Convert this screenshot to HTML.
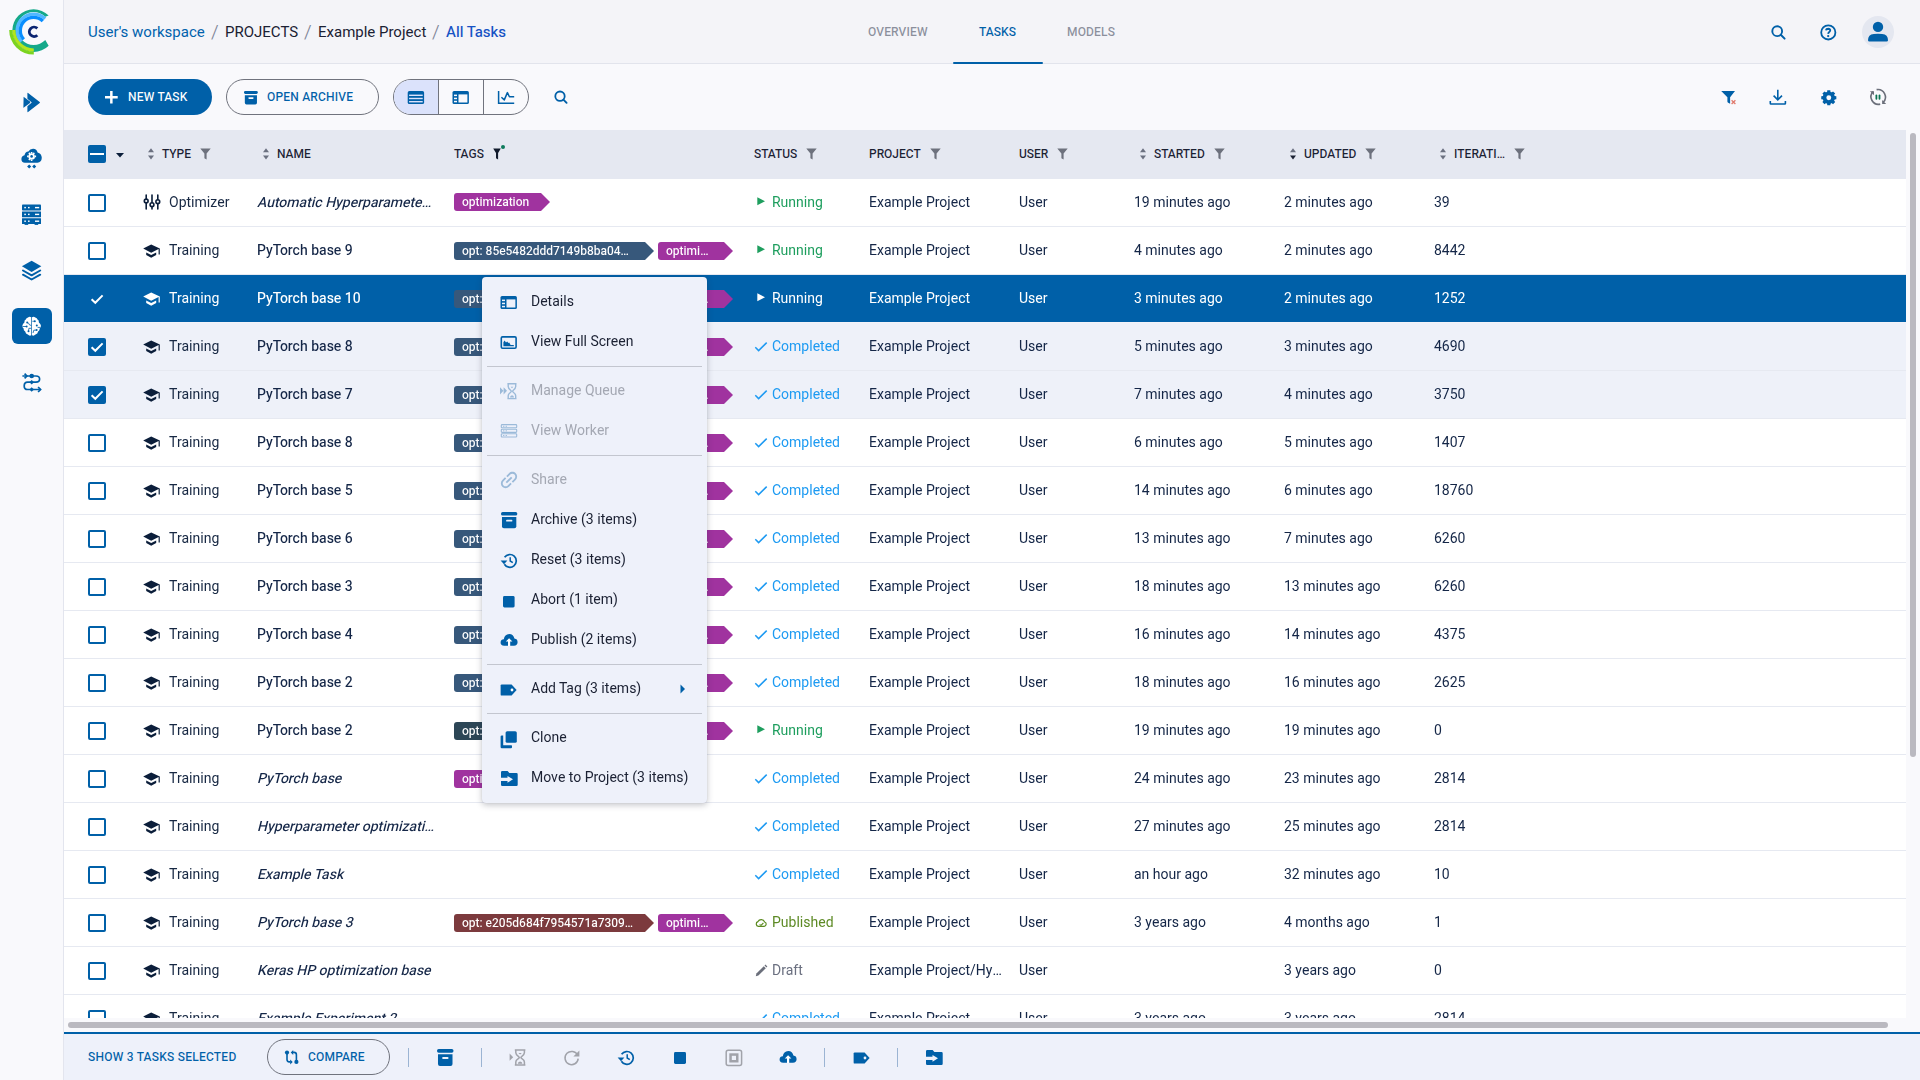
<!DOCTYPE html>
<html><head><meta charset="utf-8"><title>ClearML - Tasks</title>
<style>
*{margin:0;padding:0;box-sizing:border-box}
html,body{width:1920px;height:1080px;overflow:hidden;background:#f9f9fc;font-family:"Heebo", "Roboto", "Liberation Sans", sans-serif;color:#1b2133}
.abs{position:absolute}
svg.abs{overflow:visible}
#side{position:absolute;left:0;top:0;width:64px;height:1080px;background:#f9f9fc;border-right:1px solid #e3e5ee}
#top{position:absolute;left:64px;top:0;width:1856px;height:64px;background:#f4f4f8;border-bottom:1px solid #e2e4ec}
.crumb{position:absolute;top:22px;font-size:15px;line-height:20px;white-space:nowrap}
.crumb.sl{font-size:19px;font-weight:300;color:#7f8597;top:20px;line-height:24px}
.tab{position:absolute;top:24px;font-size:12px;line-height:16px;font-weight:500;color:#8b8f9c;letter-spacing:0.15px}
.btn{position:absolute;border-radius:18px;font-size:12px;line-height:16px;font-weight:500;letter-spacing:0.2px;white-space:nowrap}
.up{font-size:12px;line-height:16px;font-weight:500;letter-spacing:0.2px;white-space:nowrap}
#table{position:absolute;left:64px;top:130px;width:1842px;height:888px;overflow:hidden;background:#fff}
.thead{position:absolute;left:0;top:0;width:1842px;height:49px;background:#e5e8f1}
.th{position:absolute;top:17px;font-size:12px;line-height:14px;font-weight:500;color:#1b2133;white-space:nowrap}
.th .fi{position:relative;display:inline-block;margin-left:9px;top:1px;vertical-align:top;line-height:0;height:12px}
.th .dot{position:absolute;left:8.5px;top:-2.8px;width:3.8px;height:3.8px;border-radius:2px;background:#0e7a5c}
.row{position:absolute;left:0;width:1842px;height:48px;background:#fff;border-bottom:1px solid #e6e9f1}
.row.checked{background:#eef1f9}
.row.active{background:#0060a8;border-bottom-color:#f3f3f9}
.row.active .t{color:#fff}
.row .t{position:absolute;top:14px;font-size:14px;line-height:20px;white-space:nowrap;color:#142647}
.row .type{color:#172843}
.row .name{font-weight:500;max-width:186px;overflow:hidden;padding-right:4px}
.ic{position:absolute;line-height:0}
.ic svg,.cb svg{display:block}
.cb{position:absolute;width:18px;height:18px}
.tag{position:absolute;height:18px;border-radius:3px 0 0 3px;color:#fff;font-size:12px;line-height:18px;font-weight:500;padding-left:8px;white-space:nowrap}
.tag span{display:block;overflow:hidden}
.tag i{position:absolute;right:-9px;top:0;width:0;height:0;border-top:9px solid transparent;border-bottom:9px solid transparent;border-left:9px solid}
#menu{position:absolute;left:482px;top:277px;width:225px;height:526px;background:#eef1fa;border-radius:4px;box-shadow:0 2px 6px rgba(40,44,60,0.28),0 0 1px rgba(40,44,60,0.2)}
.mi{position:absolute;left:49px;font-size:14px;line-height:20px;white-space:nowrap}
</style></head>
<body>
<div id="side">
<svg class="abs" style="left:0;top:0" width="64" height="64" viewBox="0 0 64 64"><path d="M48.66 15.54 A21.3 21.3 0 1 0 48.66 45.66 L45.27 40.07 A16.5 16.5 0 1 1 45.27 16.73 Z" fill="#15a98a"/><path d="M21.34 41.64 A16.5 16.5 0 0 1 45.06 18.73" stroke="#52b8ff" stroke-width="3.4" fill="none"/><path d="M23.75 39.47 A13.25 13.25 0 0 1 42.80 21.07" stroke="#0a8efe" stroke-width="3.3" fill="none"/><path d="M33.80 53.00 A23.0 23.0 0 0 1 10.80 30.00" stroke="#7cd41f" stroke-width="3.2" fill="none"/><path d="M33.80 49.90 A19.9 19.9 0 0 1 13.90 30.00" stroke="#b4e51c" stroke-width="3.0" fill="none"/><path d="M37.3 28.4 A4.7 4.7 0 1 0 37.3 35.2" stroke="#0b2471" stroke-width="2.9" fill="none"/></svg>
<svg class="abs" style="left:20px;top:90px" width="24" height="24" viewBox="20 90 24 24"><path d="M23.6 97.2 Q23.2 96.6 23.9 96.9 L30 101.6 Q30.6 102.3 30 103 L23.9 107.6 Q23.2 108 23.4 107.2 Z" fill="#0060a8"/><path d="M27.4 93.3 Q27.4 92.5 28.1 93 L39.7 101.9 Q40.3 102.5 39.7 103.1 L28.1 112 Q27.4 112.4 27.4 111.6 L27.4 106.2 L31.8 102.5 L27.4 98.8 Z" fill="#0060a8"/></svg>
<svg class="abs" style="left:20px;top:146px" width="24" height="24" viewBox="20 146 24 24"><path d="M25 162.8 Q21.3 162.6 21.4 159 Q21.6 155.8 24.5 155.2 Q25.2 151.6 28.4 151.4 Q30 148.6 33.2 148.7 Q36.8 149 37.6 152.4 Q41.6 153.4 41.8 157.8 Q41.6 162.5 37.4 162.8 Z" fill="#0060a8"/><g fill="#fff"><circle cx="31.6" cy="156.4" r="3.2"/><path d="M30.8 151.9h1.6v1.5h-1.6zM30.8 159.4h1.6v1.5h-1.6zM27.1 155.6h1.5v1.6h-1.5zM34.6 155.6h1.5v1.6h-1.5z"/><path d="M28.3 153.4l1.1-1.1 1.1 1.1-1.1 1.1zM32.7 157.8l1.1-1.1 1.1 1.1-1.1 1.1zM28.3 159.4l1.1-1.1 1.1 1.1-1.1 1.1zM32.7 153.4l1.1-1.1 1.1 1.1-1.1 1.1z"/></g><circle cx="31.6" cy="156.4" r="1.3" fill="#0060a8"/><path d="M29.2 164.4 L31.2 166.5 L29.2 168.6 L27.1 166.5 Z M34.2 164.4 L36.2 166.5 L34.2 168.6 L32.2 166.5 Z" fill="#0060a8"/></svg>
<svg class="abs" style="left:20px;top:202px" width="24" height="24" viewBox="20 202 24 24"><g fill="#0060a8"><rect x="22" y="204.6" width="19" height="5.9" rx="0.8"/><rect x="22" y="211.4" width="19" height="5.9" rx="0.3"/><rect x="22" y="218.2" width="19" height="5.9" rx="0.3"/><rect x="24.6" y="223.5" width="3.6" height="1.4"/><rect x="34.6" y="223.5" width="3.6" height="1.4"/></g><g fill="#fff"><rect x="24.3" y="206.9" width="1.6" height="1.4"/><rect x="28" y="206.9" width="1.6" height="1.4"/><rect x="35" y="206.9" width="4.2" height="1.4"/><rect x="24.3" y="213.7" width="1.6" height="1.4"/><rect x="28" y="213.7" width="1.6" height="1.4"/><rect x="35" y="213.7" width="4.2" height="1.4"/><rect x="24.3" y="220.5" width="1.6" height="1.4"/><rect x="28" y="220.5" width="1.6" height="1.4"/><rect x="35" y="220.5" width="4.2" height="1.4"/></g></svg>
<svg class="abs" style="left:20px;top:258px" width="24" height="24" viewBox="20 258 24 24"><path d="M31.6 260.7 L41.3 266.3 L31.6 271.9 L21.9 266.3 Z" fill="#0060a8"/><path d="M23 270.5 L31.6 275.3 L40.2 270.5" stroke="#0060a8" stroke-width="2" fill="none" stroke-linecap="round" stroke-linejoin="round"/><path d="M23 274.7 L31.6 279.5 L40.2 274.7" stroke="#0060a8" stroke-width="2" fill="none" stroke-linecap="round" stroke-linejoin="round"/></svg>
<div class="abs" style="left:12px;top:308px;width:40px;height:36px;border-radius:6px;background:#0060a8"></div>
<svg class="abs" style="left:20px;top:314px" width="24" height="24" viewBox="20 314 24 24"><path d="M31.3 317.3 Q29.6 316.4 28 317.4 Q26.2 317.6 25.8 319.6 Q24.2 320.4 24.4 322.4 Q22.6 323.6 22.4 325.6 Q22.1 327.4 23.6 328.6 Q23.4 330.6 25.2 331.6 Q25.6 333.9 27.8 334.6 Q29.6 336.3 31.3 335.2 Z" fill="#fff"/><path d="M32 317.3 Q33.7 316.4 35.3 317.4 Q37.1 317.6 37.5 319.6 Q39.1 320.4 38.9 322.4 Q40.7 323.6 40.9 325.6 Q41.2 327.4 39.7 328.6 Q39.9 330.6 38.1 331.6 Q37.7 333.9 35.5 334.6 Q33.7 336.3 32 335.2 Z" fill="#fff"/><g stroke="#0060a8" stroke-width="0.8" fill="none"><path d="M22.6 326.5 H26.2 M27.2 322.6 L28.6 323.2 L29.6 325 L31.3 325.4 M28.5 331 L28.9 328.3 L31.3 328.3 M32.4 321.3 L34.5 321.2 M33 333 L33.8 330.2 L36.2 330.1 M37.6 327.4 L40.6 327.4"/></g><g fill="#0060a8"><circle cx="26.6" cy="326.5" r="1"/><circle cx="27.2" cy="322.6" r="1"/><circle cx="28.5" cy="331.2" r="1"/><circle cx="34.8" cy="321.2" r="1"/><circle cx="36.8" cy="325.4" r="1"/><circle cx="36.6" cy="330.1" r="1"/></g></svg>
<svg class="abs" style="left:20px;top:370px" width="24" height="24" viewBox="20 370 24 24"><g stroke="#0060a8" stroke-width="1.7" fill="none"><path d="M22.4 376 H36 Q39.6 376.1 39.6 379.1 Q39.6 382.2 36 382.2 H27.6 Q24.2 382.3 24.2 385.9 Q24.2 389.5 27.6 389.5 H40.4"/><path d="M24.6 373.6 L26.9 376 L24.6 378.4 M38.1 387 L40.6 389.5 L38.1 392"/></g><g fill="#0060a8"><ellipse cx="31.7" cy="376" rx="2.3" ry="2.2"/><path d="M31.7 380 L34 382.2 L31.7 384.5 L29.4 382.2 Z"/><path d="M31.7 387.2 L34 389.5 L31.7 391.8 L29.4 389.5 Z"/></g></svg>
</div>
<div id="top">
  <div class="crumb" style="left:24px;color:#0062ad">User's workspace</div>
  <div class="crumb sl" style="left:147px">/</div>
  <div class="crumb" style="left:161px;color:#1b2133">PROJECTS</div>
  <div class="crumb sl" style="left:240px">/</div>
  <div class="crumb" style="left:254px;color:#1b2133">Example Project</div>
  <div class="crumb sl" style="left:368px">/</div>
  <div class="crumb" style="left:382px;color:#1652c4;font-weight:500">All Tasks</div>
  <div class="tab" style="left:804px">OVERVIEW</div>
  <div class="tab" style="left:915px;color:#0060a8">TASKS</div>
  <div class="tab" style="left:1003px">MODELS</div>
  <div class="abs" style="left:889px;top:62px;width:90px;height:2px;border-radius:1px;background:#0060a8"></div>
</div>
<svg class="abs" style="left:1766px;top:20px" width="24" height="24" viewBox="1766 20 24 24"><circle cx="1777.2" cy="31.2" r="4.9" stroke="#0060a8" stroke-width="1.9" fill="none"/><path d="M1780.8 34.8 L1784.6 38.6" stroke="#0060a8" stroke-width="2" stroke-linecap="round"/></svg>
<svg class="abs" style="left:1816px;top:20px" width="24" height="24" viewBox="1816 20 24 24"><circle cx="1828.3" cy="32.4" r="7.1" stroke="#0060a8" stroke-width="1.8" fill="none"/><path d="M1826.1 30.3 Q1826.3 28.7 1828.3 28.7 Q1830.3 28.8 1830.2 30.5 Q1830.1 31.5 1829 32.2 Q1828.3 32.7 1828.2 33.9" stroke="#0060a8" stroke-width="1.9" fill="none"/><circle cx="1828.2" cy="36.1" r="1.15" fill="#0060a8"/></svg>
<div class="abs" style="left:1862px;top:16px;width:32px;height:32px;border-radius:16px;background:#e4e7f0"></div>
<svg class="abs" style="left:1862px;top:16px" width="32" height="32" viewBox="1862 16 32 32"><circle cx="1878" cy="26.9" r="5.2" fill="#0060a8"/><path d="M1868 40.2 Q1868 34.6 1873.8 34 Q1878 33.3 1882.2 34 Q1888 34.6 1888 40.2 Q1888 41.6 1886.6 41.6 H1869.4 Q1868 41.6 1868 40.2 Z" fill="#0060a8"/></svg>
<div class="btn" style="left:88px;top:79px;width:124px;height:36px;background:#0060a8;color:#fff"><svg class="abs" style="left:17.3px;top:11.6px" width="14" height="14" viewBox="0 0 14 14"><path d="M6.35 0 V12.6 M0 6.3 H12.7" stroke="#fff" stroke-width="2.5"/></svg><span class="abs" style="left:40px;top:10px">NEW TASK</span></div>
<div class="btn" style="left:226px;top:79px;width:153px;height:36px;border:1px solid #70737d;color:#0060a8"><span class="abs" style="left:40px;top:9px">OPEN ARCHIVE</span></div>
<svg class="abs" style="left:244.2px;top:90.6px" width="14.8" height="14.4" viewBox="0 0 14.8 14.4"><rect x="0" y="0" width="13.80" height="2.95" rx="1.34" fill="#0060a8"/><path d="M0.83 4.15 H12.97 V11.79 Q12.97 13.40 11.36 13.40 H2.44 Q0.83 13.40 0.83 11.79 Z" fill="#0060a8"/><rect x="4.28" y="6.30" width="5.38" height="1.61" rx="0.80" fill="#f9f9fc"/></svg>
<div class="abs" style="left:393px;top:79px;width:136px;height:36px;border:1px solid #70737d;border-radius:18px;overflow:hidden"><div class="abs" style="left:0;top:0;width:44px;height:34px;background:#dbe2fb"></div><div class="abs" style="left:44px;top:0;width:1px;height:34px;background:#70737d"></div><div class="abs" style="left:89px;top:0;width:1px;height:34px;background:#70737d"></div></div>
<svg class="abs" style="left:407px;top:91px" width="18" height="14" viewBox="0 0 18 14"><rect x="0.7" y="0.1" width="16.4" height="12.9" rx="1.6" fill="#0060a8"/><g fill="#dbe2fb"><rect x="2.1" y="3.6" width="13.6" height="1.4"/><rect x="2.1" y="6.8" width="13.6" height="1.4"/><rect x="2.1" y="10" width="13.6" height="1.4"/></g></svg>
<svg class="abs" style="left:452px;top:91px" width="18" height="14" viewBox="0 0 18 14"><rect x="0.5" y="0.1" width="16.4" height="12.9" rx="1.5" fill="#0060a8"/><rect x="6.5" y="3.4" width="8.9" height="8.1" fill="#f9f9fc"/><g fill="#f9f9fc"><rect x="2" y="3.6" width="3" height="1.5"/><rect x="2" y="6.7" width="3" height="1.5"/><rect x="2" y="9.8" width="3" height="1.5"/></g></svg>
<svg class="abs" style="left:497px;top:90px" width="18" height="15" viewBox="0 0 18 15"><path d="M1.6 1 V13.3 H17.2" stroke="#0060a8" stroke-width="1.5" fill="none"/><path d="M4.4 7.3 L7.3 9.9 L10.4 2.6 L12.4 6.8 H17.2" stroke="#0060a8" stroke-width="1.5" fill="none" stroke-linejoin="round"/></svg>
<svg class="abs" style="left:552px;top:88px" width="18" height="18" viewBox="0 0 18 18"><circle cx="8" cy="8.2" r="4.7" stroke="#0060a8" stroke-width="1.8" fill="none"/><path d="M11.4 11.6 L14.6 14.8" stroke="#0060a8" stroke-width="1.9" stroke-linecap="round"/></svg>
<svg class="abs" style="left:1720px;top:89px" width="18" height="18" viewBox="0 0 18 18"><path d="M1.2 1.9 H15 L10.1 8.2 V14.8 L8.2 13.8 Q7.4 13.3 7.4 12.4 V8.2 Z" fill="#0060a8"/><path d="M11.6 11.3 L15.4 15 M15.4 11.3 L11.6 15" stroke="#e07a6c" stroke-width="1.3"/></svg>
<svg class="abs" style="left:1769px;top:89px" width="18" height="17" viewBox="0 0 18 17"><path d="M8.8 0.8 V10.6 M4.6 6.6 L8.8 10.8 L13 6.6" stroke="#0060a8" stroke-width="1.6" fill="none"/><path d="M1.3 12 V14.4 Q1.3 15 1.9 15 H15.8 Q16.4 15 16.4 14.4 V12" stroke="#0060a8" stroke-width="1.6" fill="none"/></svg>
<svg class="abs" style="left:1820.5px;top:89.8px" width="15.6" height="15.6" viewBox="0 0 16 16"><path d="M13.73 6.23 L15.74 6.43 L15.74 9.57 L13.73 9.77 L13.31 10.80 L14.58 12.36 L12.36 14.58 L10.80 13.31 L9.77 13.73 L9.57 15.74 L6.43 15.74 L6.23 13.73 L5.20 13.31 L3.64 14.58 L1.42 12.36 L2.69 10.80 L2.27 9.77 L0.26 9.57 L0.26 6.43 L2.27 6.23 L2.69 5.20 L1.42 3.64 L3.64 1.42 L5.20 2.69 L6.23 2.27 L6.43 0.26 L9.57 0.26 L9.77 2.27 L10.80 2.69 L12.36 1.42 L14.58 3.64 L13.31 5.20 Z" fill="#0060a8"/><circle cx="8" cy="8" r="6.2" fill="#0060a8"/><circle cx="8" cy="8" r="2.5" fill="#f9f9fc"/></svg>
<svg class="abs" style="left:1866px;top:86px" width="24" height="22" viewBox="1866 86 24 22"><path d="M1873.1 91.6 A7.5 7.5 0 0 0 1880.2 104.1" stroke="#6b6f7a" stroke-width="1.6" fill="none"/><path d="M1876.6 89.6 A7.5 7.5 0 0 1 1883.2 102.3" stroke="#6b6f7a" stroke-width="1.6" fill="none"/><path d="M1869.9 91.2 H1874 V95.3 Z" fill="#6b6f7a"/><path d="M1882.1 99.9 V104 H1886.2 Z" fill="#6b6f7a"/><rect x="1875.5" y="94.5" width="1.8" height="5.2" rx="0.9" fill="#0b7351"/><rect x="1878.6" y="94.5" width="1.8" height="5.2" rx="0.9" fill="#0b7351"/></svg>
<div id="table">
<div class="thead">
<div style="position:absolute;left:24px;top:15px;width:18px;height:18px;border-radius:2px;background:#0060a8"><div style="position:absolute;left:2px;top:8px;width:14px;height:2px;background:#fff"></div></div>
<div class="ic" style="left:52px;top:22.5px"><svg width="8" height="5" viewBox="0 0 8 5" ><path d="M0 0 H8 L4 4.4 Z" fill="#0b1e3a"/></svg></div>
<div class="th" style="left:98px" data-l="TYPE">TYPE<span class="fi"><svg width="11" height="12" viewBox="0 0 11 12" ><path d="M0.3 0.5 H10.7 L6.6 5.6 V11.5 L4.4 10.2 V5.6 Z" fill="#6d717d"/></svg></span></div>
<div class="ic" style="left:84px;top:18px"><svg width="6" height="12" viewBox="0 0 6 12" ><path d="M0 4.2 L3 0.2 L6 4.2 Z" fill="#6b7080"/><path d="M0 7.4 L3 11.4 L6 7.4 Z" fill="#6b7080"/></svg></div>
<div class="th" style="left:213px" data-l="NAME">NAME</div>
<div class="ic" style="left:199px;top:18px"><svg width="6" height="12" viewBox="0 0 6 12" ><path d="M0 4.2 L3 0.2 L6 4.2 Z" fill="#6b7080"/><path d="M0 7.4 L3 11.4 L6 7.4 Z" fill="#6b7080"/></svg></div>
<div class="th" style="left:390px" data-l="TAGS">TAGS<span class="fi"><svg width="8" height="12" viewBox="0 0 8 12" ><path d="M0.2 0.6 H7.8 L5.1 5 V11.4 L3 10.3 V5 Z" fill="#111a2c"/></svg><b class="dot"></b></span></div>
<div class="th" style="left:690px" data-l="STATUS">STATUS<span class="fi"><svg width="11" height="12" viewBox="0 0 11 12" ><path d="M0.3 0.5 H10.7 L6.6 5.6 V11.5 L4.4 10.2 V5.6 Z" fill="#6d717d"/></svg></span></div>
<div class="th" style="left:805px" data-l="PROJECT">PROJECT<span class="fi"><svg width="11" height="12" viewBox="0 0 11 12" ><path d="M0.3 0.5 H10.7 L6.6 5.6 V11.5 L4.4 10.2 V5.6 Z" fill="#6d717d"/></svg></span></div>
<div class="th" style="left:955px" data-l="USER">USER<span class="fi"><svg width="11" height="12" viewBox="0 0 11 12" ><path d="M0.3 0.5 H10.7 L6.6 5.6 V11.5 L4.4 10.2 V5.6 Z" fill="#6d717d"/></svg></span></div>
<div class="th" style="left:1090px" data-l="STARTED">STARTED<span class="fi"><svg width="11" height="12" viewBox="0 0 11 12" ><path d="M0.3 0.5 H10.7 L6.6 5.6 V11.5 L4.4 10.2 V5.6 Z" fill="#6d717d"/></svg></span></div>
<div class="ic" style="left:1076px;top:18px"><svg width="6" height="12" viewBox="0 0 6 12" ><path d="M0 4.2 L3 0.2 L6 4.2 Z" fill="#6b7080"/><path d="M0 7.4 L3 11.4 L6 7.4 Z" fill="#6b7080"/></svg></div>
<div class="th" style="left:1240px" data-l="UPDATED">UPDATED<span class="fi"><svg width="11" height="12" viewBox="0 0 11 12" ><path d="M0.3 0.5 H10.7 L6.6 5.6 V11.5 L4.4 10.2 V5.6 Z" fill="#6d717d"/></svg></span></div>
<div class="ic" style="left:1226px;top:18px"><svg width="6" height="12" viewBox="0 0 6 12" ><path d="M0 4.2 L3 0.2 L6 4.2 Z" fill="#6b7080"/><path d="M0 7.4 L3 11.4 L6 7.4 Z" fill="#1b2133"/></svg></div>
<div class="th" style="left:1390px" data-l="ITERATI…">ITERATI…<span class="fi"><svg width="11" height="12" viewBox="0 0 11 12" ><path d="M0.3 0.5 H10.7 L6.6 5.6 V11.5 L4.4 10.2 V5.6 Z" fill="#6d717d"/></svg></span></div>
<div class="ic" style="left:1376px;top:18px"><svg width="6" height="12" viewBox="0 0 6 12" ><path d="M0 4.2 L3 0.2 L6 4.2 Z" fill="#6b7080"/><path d="M0 7.4 L3 11.4 L6 7.4 Z" fill="#6b7080"/></svg></div>
</div>
<div style="position:absolute;left:0;top:49px;width:1842px;height:839px;overflow:hidden;will-change:transform;background:#fff">
<div style="position:absolute;left:0;top:-179px;width:1842px">
<div class="row" style="top:179px">
<div class="cb" style="left:24px;top:15px"><div style="position:absolute;left:0;top:0;width:18px;height:18px;box-sizing:border-box;border:2px solid #0060a8;border-radius:2px;background:#fff"></div></div>
<div class="ic" style="left:79px;top:15px"><svg width="18" height="16" viewBox="2 0 18 16" ><g stroke="#0b1e3a" stroke-width="1.6" fill="none" stroke-linecap="round"><path d="M5.2 1 V4.8 M5.2 9 V15 M11 1 V8.6 M11 12.8 V15 M16.8 1 V5.6 M16.8 9.8 V15"/><circle cx="5.2" cy="7" r="1.9"/><circle cx="11" cy="10.7" r="1.9"/><circle cx="16.8" cy="7.7" r="1.9"/></g></svg></div>
<div class="t type" style="left:105px">Optimizer</div>
<div class="t name" style="left:193px;font-style:italic;">Automatic Hyperparamete…</div>
<div class="tag" style="left:390px;top:14px;width:87px;background:#a0339f"><span>optimization</span><i style="border-left-color:#a0339f"></i></div>
<div class="ic" style="left:690px;top:16px"><svg width="16" height="16" viewBox="0 0 16 16" ><path d="M3.3 2.2 L11 6.2 L3.3 10.2 Z" fill="#1e9e5e"/></svg></div>
<div class="t" style="left:708px;color:#1e9e5e">Running</div>
<div class="t" style="left:805px">Example Project</div>
<div class="t" style="left:955px">User</div>
<div class="t" style="left:1070px">19 minutes ago</div>
<div class="t" style="left:1220px">2 minutes ago</div>
<div class="t" style="left:1370px">39</div>
</div>
<div class="row" style="top:227px">
<div class="cb" style="left:24px;top:15px"><div style="position:absolute;left:0;top:0;width:18px;height:18px;box-sizing:border-box;border:2px solid #0060a8;border-radius:2px;background:#fff"></div></div>
<div class="ic" style="left:79px;top:17px"><svg width="18" height="14" viewBox="0 0 18 14" ><path d="M8.2 0.6 L0.2 4.6 L8.2 8.8 L15.6 5 L15.6 10.6 L16.8 10.6 L16.8 4.4 Z" fill="#0b1e3a"/><path d="M3.2 8.4 L3.2 11 L8.2 13.7 L13.2 11 L13.2 8.4 L8.2 11 Z" fill="#0b1e3a"/></svg></div>
<div class="t type" style="left:105px">Training</div>
<div class="t name" style="left:193px;">PyTorch base 9</div>
<div class="tag" style="left:390px;top:15px;width:191px;background:#37587b"><span>opt: 85e5482ddd7149b8ba04…</span><i style="border-left-color:#37587b"></i></div>
<div class="tag" style="left:594px;top:15px;width:66px;background:#a0339f"><span>optimi…</span><i style="border-left-color:#a0339f"></i></div>
<div class="ic" style="left:690px;top:16px"><svg width="16" height="16" viewBox="0 0 16 16" ><path d="M3.3 2.2 L11 6.2 L3.3 10.2 Z" fill="#1e9e5e"/></svg></div>
<div class="t" style="left:708px;color:#1e9e5e">Running</div>
<div class="t" style="left:805px">Example Project</div>
<div class="t" style="left:955px">User</div>
<div class="t" style="left:1070px">4 minutes ago</div>
<div class="t" style="left:1220px">2 minutes ago</div>
<div class="t" style="left:1370px">8442</div>
</div>
<div class="row active" style="top:275px">
<div class="cb" style="left:24px;top:15px"><svg width="18" height="18" viewBox="0 0 18 18" ><path d="M3.6 9.2 L7.3 12.8 L14.6 5.4" stroke="#fff" stroke-width="2" fill="none"/></svg></div>
<div class="ic" style="left:79px;top:17px"><svg width="18" height="14" viewBox="0 0 18 14" ><path d="M8.2 0.6 L0.2 4.6 L8.2 8.8 L15.6 5 L15.6 10.6 L16.8 10.6 L16.8 4.4 Z" fill="#ffffff"/><path d="M3.2 8.4 L3.2 11 L8.2 13.7 L13.2 11 L13.2 8.4 L8.2 11 Z" fill="#ffffff"/></svg></div>
<div class="t type" style="left:105px">Training</div>
<div class="t name" style="left:193px;">PyTorch base 10</div>
<div class="tag" style="left:390px;top:15px;width:191px;background:#37587b"><span>opt: 85e5482ddd7149b8ba04…</span><i style="border-left-color:#37587b"></i></div>
<div class="tag" style="left:594px;top:15px;width:66px;background:#a0339f"><span>optimi…</span><i style="border-left-color:#a0339f"></i></div>
<div class="ic" style="left:690px;top:16px"><svg width="16" height="16" viewBox="0 0 16 16" ><path d="M3.3 2.2 L11 6.2 L3.3 10.2 Z" fill="#ffffff"/></svg></div>
<div class="t" style="left:708px;color:#ffffff">Running</div>
<div class="t" style="left:805px">Example Project</div>
<div class="t" style="left:955px">User</div>
<div class="t" style="left:1070px">3 minutes ago</div>
<div class="t" style="left:1220px">2 minutes ago</div>
<div class="t" style="left:1370px">1252</div>
</div>
<div class="row checked" style="top:323px">
<div class="cb" style="left:24px;top:15px"><div style="position:absolute;left:0;top:0;width:18px;height:18px;border-radius:2px;background:#0060a8"><svg width="18" height="18" viewBox="0 0 18 18" ><path d="M3.6 9.2 L7.3 12.8 L14.6 5.4" stroke="#fff" stroke-width="2" fill="none"/></svg></div></div>
<div class="ic" style="left:79px;top:17px"><svg width="18" height="14" viewBox="0 0 18 14" ><path d="M8.2 0.6 L0.2 4.6 L8.2 8.8 L15.6 5 L15.6 10.6 L16.8 10.6 L16.8 4.4 Z" fill="#0b1e3a"/><path d="M3.2 8.4 L3.2 11 L8.2 13.7 L13.2 11 L13.2 8.4 L8.2 11 Z" fill="#0b1e3a"/></svg></div>
<div class="t type" style="left:105px">Training</div>
<div class="t name" style="left:193px;">PyTorch base 8</div>
<div class="tag" style="left:390px;top:15px;width:191px;background:#37587b"><span>opt: 85e5482ddd7149b8ba04…</span><i style="border-left-color:#37587b"></i></div>
<div class="tag" style="left:594px;top:15px;width:66px;background:#a0339f"><span>optimi…</span><i style="border-left-color:#a0339f"></i></div>
<div class="ic" style="left:690px;top:16px"><svg width="16" height="16" viewBox="0 0 16 16" ><path d="M1.3 8.3 L4.6 11.6 L12.7 3.6" stroke="#1e9af2" stroke-width="1.5" fill="none"/></svg></div>
<div class="t" style="left:708px;color:#1c9af2">Completed</div>
<div class="t" style="left:805px">Example Project</div>
<div class="t" style="left:955px">User</div>
<div class="t" style="left:1070px">5 minutes ago</div>
<div class="t" style="left:1220px">3 minutes ago</div>
<div class="t" style="left:1370px">4690</div>
</div>
<div class="row checked" style="top:371px">
<div class="cb" style="left:24px;top:15px"><div style="position:absolute;left:0;top:0;width:18px;height:18px;border-radius:2px;background:#0060a8"><svg width="18" height="18" viewBox="0 0 18 18" ><path d="M3.6 9.2 L7.3 12.8 L14.6 5.4" stroke="#fff" stroke-width="2" fill="none"/></svg></div></div>
<div class="ic" style="left:79px;top:17px"><svg width="18" height="14" viewBox="0 0 18 14" ><path d="M8.2 0.6 L0.2 4.6 L8.2 8.8 L15.6 5 L15.6 10.6 L16.8 10.6 L16.8 4.4 Z" fill="#0b1e3a"/><path d="M3.2 8.4 L3.2 11 L8.2 13.7 L13.2 11 L13.2 8.4 L8.2 11 Z" fill="#0b1e3a"/></svg></div>
<div class="t type" style="left:105px">Training</div>
<div class="t name" style="left:193px;">PyTorch base 7</div>
<div class="tag" style="left:390px;top:15px;width:191px;background:#37587b"><span>opt: 85e5482ddd7149b8ba04…</span><i style="border-left-color:#37587b"></i></div>
<div class="tag" style="left:594px;top:15px;width:66px;background:#a0339f"><span>optimi…</span><i style="border-left-color:#a0339f"></i></div>
<div class="ic" style="left:690px;top:16px"><svg width="16" height="16" viewBox="0 0 16 16" ><path d="M1.3 8.3 L4.6 11.6 L12.7 3.6" stroke="#1e9af2" stroke-width="1.5" fill="none"/></svg></div>
<div class="t" style="left:708px;color:#1c9af2">Completed</div>
<div class="t" style="left:805px">Example Project</div>
<div class="t" style="left:955px">User</div>
<div class="t" style="left:1070px">7 minutes ago</div>
<div class="t" style="left:1220px">4 minutes ago</div>
<div class="t" style="left:1370px">3750</div>
</div>
<div class="row" style="top:419px">
<div class="cb" style="left:24px;top:15px"><div style="position:absolute;left:0;top:0;width:18px;height:18px;box-sizing:border-box;border:2px solid #0060a8;border-radius:2px;background:#fff"></div></div>
<div class="ic" style="left:79px;top:17px"><svg width="18" height="14" viewBox="0 0 18 14" ><path d="M8.2 0.6 L0.2 4.6 L8.2 8.8 L15.6 5 L15.6 10.6 L16.8 10.6 L16.8 4.4 Z" fill="#0b1e3a"/><path d="M3.2 8.4 L3.2 11 L8.2 13.7 L13.2 11 L13.2 8.4 L8.2 11 Z" fill="#0b1e3a"/></svg></div>
<div class="t type" style="left:105px">Training</div>
<div class="t name" style="left:193px;">PyTorch base 8</div>
<div class="tag" style="left:390px;top:15px;width:191px;background:#37587b"><span>opt: 85e5482ddd7149b8ba04…</span><i style="border-left-color:#37587b"></i></div>
<div class="tag" style="left:594px;top:15px;width:66px;background:#a0339f"><span>optimi…</span><i style="border-left-color:#a0339f"></i></div>
<div class="ic" style="left:690px;top:16px"><svg width="16" height="16" viewBox="0 0 16 16" ><path d="M1.3 8.3 L4.6 11.6 L12.7 3.6" stroke="#1e9af2" stroke-width="1.5" fill="none"/></svg></div>
<div class="t" style="left:708px;color:#1c9af2">Completed</div>
<div class="t" style="left:805px">Example Project</div>
<div class="t" style="left:955px">User</div>
<div class="t" style="left:1070px">6 minutes ago</div>
<div class="t" style="left:1220px">5 minutes ago</div>
<div class="t" style="left:1370px">1407</div>
</div>
<div class="row" style="top:467px">
<div class="cb" style="left:24px;top:15px"><div style="position:absolute;left:0;top:0;width:18px;height:18px;box-sizing:border-box;border:2px solid #0060a8;border-radius:2px;background:#fff"></div></div>
<div class="ic" style="left:79px;top:17px"><svg width="18" height="14" viewBox="0 0 18 14" ><path d="M8.2 0.6 L0.2 4.6 L8.2 8.8 L15.6 5 L15.6 10.6 L16.8 10.6 L16.8 4.4 Z" fill="#0b1e3a"/><path d="M3.2 8.4 L3.2 11 L8.2 13.7 L13.2 11 L13.2 8.4 L8.2 11 Z" fill="#0b1e3a"/></svg></div>
<div class="t type" style="left:105px">Training</div>
<div class="t name" style="left:193px;">PyTorch base 5</div>
<div class="tag" style="left:390px;top:15px;width:191px;background:#37587b"><span>opt: 85e5482ddd7149b8ba04…</span><i style="border-left-color:#37587b"></i></div>
<div class="tag" style="left:594px;top:15px;width:66px;background:#a0339f"><span>optimi…</span><i style="border-left-color:#a0339f"></i></div>
<div class="ic" style="left:690px;top:16px"><svg width="16" height="16" viewBox="0 0 16 16" ><path d="M1.3 8.3 L4.6 11.6 L12.7 3.6" stroke="#1e9af2" stroke-width="1.5" fill="none"/></svg></div>
<div class="t" style="left:708px;color:#1c9af2">Completed</div>
<div class="t" style="left:805px">Example Project</div>
<div class="t" style="left:955px">User</div>
<div class="t" style="left:1070px">14 minutes ago</div>
<div class="t" style="left:1220px">6 minutes ago</div>
<div class="t" style="left:1370px">18760</div>
</div>
<div class="row" style="top:515px">
<div class="cb" style="left:24px;top:15px"><div style="position:absolute;left:0;top:0;width:18px;height:18px;box-sizing:border-box;border:2px solid #0060a8;border-radius:2px;background:#fff"></div></div>
<div class="ic" style="left:79px;top:17px"><svg width="18" height="14" viewBox="0 0 18 14" ><path d="M8.2 0.6 L0.2 4.6 L8.2 8.8 L15.6 5 L15.6 10.6 L16.8 10.6 L16.8 4.4 Z" fill="#0b1e3a"/><path d="M3.2 8.4 L3.2 11 L8.2 13.7 L13.2 11 L13.2 8.4 L8.2 11 Z" fill="#0b1e3a"/></svg></div>
<div class="t type" style="left:105px">Training</div>
<div class="t name" style="left:193px;">PyTorch base 6</div>
<div class="tag" style="left:390px;top:15px;width:191px;background:#37587b"><span>opt: 85e5482ddd7149b8ba04…</span><i style="border-left-color:#37587b"></i></div>
<div class="tag" style="left:594px;top:15px;width:66px;background:#a0339f"><span>optimi…</span><i style="border-left-color:#a0339f"></i></div>
<div class="ic" style="left:690px;top:16px"><svg width="16" height="16" viewBox="0 0 16 16" ><path d="M1.3 8.3 L4.6 11.6 L12.7 3.6" stroke="#1e9af2" stroke-width="1.5" fill="none"/></svg></div>
<div class="t" style="left:708px;color:#1c9af2">Completed</div>
<div class="t" style="left:805px">Example Project</div>
<div class="t" style="left:955px">User</div>
<div class="t" style="left:1070px">13 minutes ago</div>
<div class="t" style="left:1220px">7 minutes ago</div>
<div class="t" style="left:1370px">6260</div>
</div>
<div class="row" style="top:563px">
<div class="cb" style="left:24px;top:15px"><div style="position:absolute;left:0;top:0;width:18px;height:18px;box-sizing:border-box;border:2px solid #0060a8;border-radius:2px;background:#fff"></div></div>
<div class="ic" style="left:79px;top:17px"><svg width="18" height="14" viewBox="0 0 18 14" ><path d="M8.2 0.6 L0.2 4.6 L8.2 8.8 L15.6 5 L15.6 10.6 L16.8 10.6 L16.8 4.4 Z" fill="#0b1e3a"/><path d="M3.2 8.4 L3.2 11 L8.2 13.7 L13.2 11 L13.2 8.4 L8.2 11 Z" fill="#0b1e3a"/></svg></div>
<div class="t type" style="left:105px">Training</div>
<div class="t name" style="left:193px;">PyTorch base 3</div>
<div class="tag" style="left:390px;top:15px;width:191px;background:#37587b"><span>opt: 85e5482ddd7149b8ba04…</span><i style="border-left-color:#37587b"></i></div>
<div class="tag" style="left:594px;top:15px;width:66px;background:#a0339f"><span>optimi…</span><i style="border-left-color:#a0339f"></i></div>
<div class="ic" style="left:690px;top:16px"><svg width="16" height="16" viewBox="0 0 16 16" ><path d="M1.3 8.3 L4.6 11.6 L12.7 3.6" stroke="#1e9af2" stroke-width="1.5" fill="none"/></svg></div>
<div class="t" style="left:708px;color:#1c9af2">Completed</div>
<div class="t" style="left:805px">Example Project</div>
<div class="t" style="left:955px">User</div>
<div class="t" style="left:1070px">18 minutes ago</div>
<div class="t" style="left:1220px">13 minutes ago</div>
<div class="t" style="left:1370px">6260</div>
</div>
<div class="row" style="top:611px">
<div class="cb" style="left:24px;top:15px"><div style="position:absolute;left:0;top:0;width:18px;height:18px;box-sizing:border-box;border:2px solid #0060a8;border-radius:2px;background:#fff"></div></div>
<div class="ic" style="left:79px;top:17px"><svg width="18" height="14" viewBox="0 0 18 14" ><path d="M8.2 0.6 L0.2 4.6 L8.2 8.8 L15.6 5 L15.6 10.6 L16.8 10.6 L16.8 4.4 Z" fill="#0b1e3a"/><path d="M3.2 8.4 L3.2 11 L8.2 13.7 L13.2 11 L13.2 8.4 L8.2 11 Z" fill="#0b1e3a"/></svg></div>
<div class="t type" style="left:105px">Training</div>
<div class="t name" style="left:193px;">PyTorch base 4</div>
<div class="tag" style="left:390px;top:15px;width:191px;background:#37587b"><span>opt: 85e5482ddd7149b8ba04…</span><i style="border-left-color:#37587b"></i></div>
<div class="tag" style="left:594px;top:15px;width:66px;background:#a0339f"><span>optimi…</span><i style="border-left-color:#a0339f"></i></div>
<div class="ic" style="left:690px;top:16px"><svg width="16" height="16" viewBox="0 0 16 16" ><path d="M1.3 8.3 L4.6 11.6 L12.7 3.6" stroke="#1e9af2" stroke-width="1.5" fill="none"/></svg></div>
<div class="t" style="left:708px;color:#1c9af2">Completed</div>
<div class="t" style="left:805px">Example Project</div>
<div class="t" style="left:955px">User</div>
<div class="t" style="left:1070px">16 minutes ago</div>
<div class="t" style="left:1220px">14 minutes ago</div>
<div class="t" style="left:1370px">4375</div>
</div>
<div class="row" style="top:659px">
<div class="cb" style="left:24px;top:15px"><div style="position:absolute;left:0;top:0;width:18px;height:18px;box-sizing:border-box;border:2px solid #0060a8;border-radius:2px;background:#fff"></div></div>
<div class="ic" style="left:79px;top:17px"><svg width="18" height="14" viewBox="0 0 18 14" ><path d="M8.2 0.6 L0.2 4.6 L8.2 8.8 L15.6 5 L15.6 10.6 L16.8 10.6 L16.8 4.4 Z" fill="#0b1e3a"/><path d="M3.2 8.4 L3.2 11 L8.2 13.7 L13.2 11 L13.2 8.4 L8.2 11 Z" fill="#0b1e3a"/></svg></div>
<div class="t type" style="left:105px">Training</div>
<div class="t name" style="left:193px;">PyTorch base 2</div>
<div class="tag" style="left:390px;top:15px;width:191px;background:#37587b"><span>opt: 85e5482ddd7149b8ba04…</span><i style="border-left-color:#37587b"></i></div>
<div class="tag" style="left:594px;top:15px;width:66px;background:#a0339f"><span>optimi…</span><i style="border-left-color:#a0339f"></i></div>
<div class="ic" style="left:690px;top:16px"><svg width="16" height="16" viewBox="0 0 16 16" ><path d="M1.3 8.3 L4.6 11.6 L12.7 3.6" stroke="#1e9af2" stroke-width="1.5" fill="none"/></svg></div>
<div class="t" style="left:708px;color:#1c9af2">Completed</div>
<div class="t" style="left:805px">Example Project</div>
<div class="t" style="left:955px">User</div>
<div class="t" style="left:1070px">18 minutes ago</div>
<div class="t" style="left:1220px">16 minutes ago</div>
<div class="t" style="left:1370px">2625</div>
</div>
<div class="row" style="top:707px">
<div class="cb" style="left:24px;top:15px"><div style="position:absolute;left:0;top:0;width:18px;height:18px;box-sizing:border-box;border:2px solid #0060a8;border-radius:2px;background:#fff"></div></div>
<div class="ic" style="left:79px;top:17px"><svg width="18" height="14" viewBox="0 0 18 14" ><path d="M8.2 0.6 L0.2 4.6 L8.2 8.8 L15.6 5 L15.6 10.6 L16.8 10.6 L16.8 4.4 Z" fill="#0b1e3a"/><path d="M3.2 8.4 L3.2 11 L8.2 13.7 L13.2 11 L13.2 8.4 L8.2 11 Z" fill="#0b1e3a"/></svg></div>
<div class="t type" style="left:105px">Training</div>
<div class="t name" style="left:193px;">PyTorch base 2</div>
<div class="tag" style="left:390px;top:15px;width:191px;background:#2c4656"><span>opt: 3b8e1cf0a2d94c6e8f71…</span><i style="border-left-color:#2c4656"></i></div>
<div class="tag" style="left:594px;top:15px;width:66px;background:#a0339f"><span>optimi…</span><i style="border-left-color:#a0339f"></i></div>
<div class="ic" style="left:690px;top:16px"><svg width="16" height="16" viewBox="0 0 16 16" ><path d="M3.3 2.2 L11 6.2 L3.3 10.2 Z" fill="#1e9e5e"/></svg></div>
<div class="t" style="left:708px;color:#1e9e5e">Running</div>
<div class="t" style="left:805px">Example Project</div>
<div class="t" style="left:955px">User</div>
<div class="t" style="left:1070px">19 minutes ago</div>
<div class="t" style="left:1220px">19 minutes ago</div>
<div class="t" style="left:1370px">0</div>
</div>
<div class="row" style="top:755px">
<div class="cb" style="left:24px;top:15px"><div style="position:absolute;left:0;top:0;width:18px;height:18px;box-sizing:border-box;border:2px solid #0060a8;border-radius:2px;background:#fff"></div></div>
<div class="ic" style="left:79px;top:17px"><svg width="18" height="14" viewBox="0 0 18 14" ><path d="M8.2 0.6 L0.2 4.6 L8.2 8.8 L15.6 5 L15.6 10.6 L16.8 10.6 L16.8 4.4 Z" fill="#0b1e3a"/><path d="M3.2 8.4 L3.2 11 L8.2 13.7 L13.2 11 L13.2 8.4 L8.2 11 Z" fill="#0b1e3a"/></svg></div>
<div class="t type" style="left:105px">Training</div>
<div class="t name" style="left:193px;font-style:italic;">PyTorch base</div>
<div class="tag" style="left:390px;top:15px;width:87px;background:#a0339f"><span>optimization</span><i style="border-left-color:#a0339f"></i></div>
<div class="ic" style="left:690px;top:16px"><svg width="16" height="16" viewBox="0 0 16 16" ><path d="M1.3 8.3 L4.6 11.6 L12.7 3.6" stroke="#1e9af2" stroke-width="1.5" fill="none"/></svg></div>
<div class="t" style="left:708px;color:#1c9af2">Completed</div>
<div class="t" style="left:805px">Example Project</div>
<div class="t" style="left:955px">User</div>
<div class="t" style="left:1070px">24 minutes ago</div>
<div class="t" style="left:1220px">23 minutes ago</div>
<div class="t" style="left:1370px">2814</div>
</div>
<div class="row" style="top:803px">
<div class="cb" style="left:24px;top:15px"><div style="position:absolute;left:0;top:0;width:18px;height:18px;box-sizing:border-box;border:2px solid #0060a8;border-radius:2px;background:#fff"></div></div>
<div class="ic" style="left:79px;top:17px"><svg width="18" height="14" viewBox="0 0 18 14" ><path d="M8.2 0.6 L0.2 4.6 L8.2 8.8 L15.6 5 L15.6 10.6 L16.8 10.6 L16.8 4.4 Z" fill="#0b1e3a"/><path d="M3.2 8.4 L3.2 11 L8.2 13.7 L13.2 11 L13.2 8.4 L8.2 11 Z" fill="#0b1e3a"/></svg></div>
<div class="t type" style="left:105px">Training</div>
<div class="t name" style="left:193px;font-style:italic;">Hyperparameter optimizati…</div>
<div class="ic" style="left:690px;top:16px"><svg width="16" height="16" viewBox="0 0 16 16" ><path d="M1.3 8.3 L4.6 11.6 L12.7 3.6" stroke="#1e9af2" stroke-width="1.5" fill="none"/></svg></div>
<div class="t" style="left:708px;color:#1c9af2">Completed</div>
<div class="t" style="left:805px">Example Project</div>
<div class="t" style="left:955px">User</div>
<div class="t" style="left:1070px">27 minutes ago</div>
<div class="t" style="left:1220px">25 minutes ago</div>
<div class="t" style="left:1370px">2814</div>
</div>
<div class="row" style="top:851px">
<div class="cb" style="left:24px;top:15px"><div style="position:absolute;left:0;top:0;width:18px;height:18px;box-sizing:border-box;border:2px solid #0060a8;border-radius:2px;background:#fff"></div></div>
<div class="ic" style="left:79px;top:17px"><svg width="18" height="14" viewBox="0 0 18 14" ><path d="M8.2 0.6 L0.2 4.6 L8.2 8.8 L15.6 5 L15.6 10.6 L16.8 10.6 L16.8 4.4 Z" fill="#0b1e3a"/><path d="M3.2 8.4 L3.2 11 L8.2 13.7 L13.2 11 L13.2 8.4 L8.2 11 Z" fill="#0b1e3a"/></svg></div>
<div class="t type" style="left:105px">Training</div>
<div class="t name" style="left:193px;font-style:italic;">Example Task</div>
<div class="ic" style="left:690px;top:16px"><svg width="16" height="16" viewBox="0 0 16 16" ><path d="M1.3 8.3 L4.6 11.6 L12.7 3.6" stroke="#1e9af2" stroke-width="1.5" fill="none"/></svg></div>
<div class="t" style="left:708px;color:#1c9af2">Completed</div>
<div class="t" style="left:805px">Example Project</div>
<div class="t" style="left:955px">User</div>
<div class="t" style="left:1070px">an hour ago</div>
<div class="t" style="left:1220px">32 minutes ago</div>
<div class="t" style="left:1370px">10</div>
</div>
<div class="row" style="top:899px">
<div class="cb" style="left:24px;top:15px"><div style="position:absolute;left:0;top:0;width:18px;height:18px;box-sizing:border-box;border:2px solid #0060a8;border-radius:2px;background:#fff"></div></div>
<div class="ic" style="left:79px;top:17px"><svg width="18" height="14" viewBox="0 0 18 14" ><path d="M8.2 0.6 L0.2 4.6 L8.2 8.8 L15.6 5 L15.6 10.6 L16.8 10.6 L16.8 4.4 Z" fill="#0b1e3a"/><path d="M3.2 8.4 L3.2 11 L8.2 13.7 L13.2 11 L13.2 8.4 L8.2 11 Z" fill="#0b1e3a"/></svg></div>
<div class="t type" style="left:105px">Training</div>
<div class="t name" style="left:193px;font-style:italic;">PyTorch base 3</div>
<div class="tag" style="left:390px;top:15px;width:191px;background:#7c3a3d"><span>opt: e205d684f7954571a7309…</span><i style="border-left-color:#7c3a3d"></i></div>
<div class="tag" style="left:594px;top:15px;width:66px;background:#a0339f"><span>optimi…</span><i style="border-left-color:#a0339f"></i></div>
<div class="ic" style="left:690px;top:16px"><svg width="16" height="16" viewBox="0 0 16 16" ><path d="M4.4 11.3 H10.2 A2.2 2.2 0 0 0 10.6 7 A3.6 3.6 0 0 0 4 6.6 A2.4 2.4 0 0 0 4.4 11.3 Z" stroke="#5b8a1e" stroke-width="1.2" fill="none"/><path d="M5.6 9.6 L7 10.4 L9.4 8" stroke="#5b8a1e" stroke-width="1.1" fill="none"/></svg></div>
<div class="t" style="left:708px;color:#5d8a25">Published</div>
<div class="t" style="left:805px">Example Project</div>
<div class="t" style="left:955px">User</div>
<div class="t" style="left:1070px">3 years ago</div>
<div class="t" style="left:1220px">4 months ago</div>
<div class="t" style="left:1370px">1</div>
</div>
<div class="row" style="top:947px">
<div class="cb" style="left:24px;top:15px"><div style="position:absolute;left:0;top:0;width:18px;height:18px;box-sizing:border-box;border:2px solid #0060a8;border-radius:2px;background:#fff"></div></div>
<div class="ic" style="left:79px;top:17px"><svg width="18" height="14" viewBox="0 0 18 14" ><path d="M8.2 0.6 L0.2 4.6 L8.2 8.8 L15.6 5 L15.6 10.6 L16.8 10.6 L16.8 4.4 Z" fill="#0b1e3a"/><path d="M3.2 8.4 L3.2 11 L8.2 13.7 L13.2 11 L13.2 8.4 L8.2 11 Z" fill="#0b1e3a"/></svg></div>
<div class="t type" style="left:105px">Training</div>
<div class="t name" style="left:193px;font-style:italic;">Keras HP optimization base</div>
<div class="ic" style="left:690px;top:16px"><svg width="16" height="16" viewBox="0 0 16 16" ><path d="M1.8 13.2 L2.4 10.6 L9.8 3.2 L11.8 5.2 L4.4 12.6 Z" fill="#6b6f7b"/><path d="M10.5 2.5 L11.4 1.6 L13.4 3.6 L12.5 4.5 Z" fill="#6b6f7b"/></svg></div>
<div class="t" style="left:708px;color:#6b7080">Draft</div>
<div class="t" style="left:805px">Example Project/Hy…</div>
<div class="t" style="left:955px">User</div>
<div class="t" style="left:1070px"></div>
<div class="t" style="left:1220px">3 years ago</div>
<div class="t" style="left:1370px">0</div>
</div>
<div class="row" style="top:995px">
<div class="cb" style="left:24px;top:15px"><div style="position:absolute;left:0;top:0;width:18px;height:18px;box-sizing:border-box;border:2px solid #0060a8;border-radius:2px;background:#fff"></div></div>
<div class="ic" style="left:79px;top:17px"><svg width="18" height="14" viewBox="0 0 18 14" ><path d="M8.2 0.6 L0.2 4.6 L8.2 8.8 L15.6 5 L15.6 10.6 L16.8 10.6 L16.8 4.4 Z" fill="#0b1e3a"/><path d="M3.2 8.4 L3.2 11 L8.2 13.7 L13.2 11 L13.2 8.4 L8.2 11 Z" fill="#0b1e3a"/></svg></div>
<div class="t type" style="left:105px">Training</div>
<div class="t name" style="left:193px;font-style:italic;">Example Experiment 2</div>
<div class="ic" style="left:690px;top:16px"><svg width="16" height="16" viewBox="0 0 16 16" ><path d="M1.3 8.3 L4.6 11.6 L12.7 3.6" stroke="#1e9af2" stroke-width="1.5" fill="none"/></svg></div>
<div class="t" style="left:708px;color:#1c9af2">Completed</div>
<div class="t" style="left:805px">Example Project</div>
<div class="t" style="left:955px">User</div>
<div class="t" style="left:1070px">3 years ago</div>
<div class="t" style="left:1220px">3 years ago</div>
<div class="t" style="left:1370px">2814</div>
</div>
</div>
</div>
</div>
<div class="abs" style="left:1910px;top:133px;width:6px;height:624px;border-radius:3px;background:#bab9c0"></div>
<div class="abs" style="left:68px;top:1022px;width:1820px;height:6px;border-radius:3px;background:#bab9c0"></div>
<div id="menu">
<div class="mi" style="top:15px;color:#1b2133">Details</div>
<svg class="abs" style="left:18px;top:18.5px" width="18" height="14" viewBox="0 0 18 14"><rect x="0.5" y="0.1" width="16.4" height="12.9" rx="1.5" fill="#0060a8"/><rect x="6.5" y="3.4" width="8.9" height="8.1" fill="#eef1fa"/><g fill="#eef1fa"><rect x="2" y="3.6" width="3" height="1.5"/><rect x="2" y="6.7" width="3" height="1.5"/><rect x="2" y="9.8" width="3" height="1.5"/></g></svg>
<div class="mi" style="top:55px;color:#1b2133">View Full Screen</div>
<svg class="abs" style="left:18px;top:58.5px" width="18" height="14" viewBox="0 0 18 14"><rect x="1.3" y="0.9" width="14.8" height="11.4" rx="1.2" stroke="#0060a8" stroke-width="1.6" fill="none"/><path d="M3.4 10.2 V6.2 L4.6 4.6 L6 6.6 L7.2 5.5 L8.4 7 L9.2 6.4 L10.6 9 H13.8 V10.2 Z" fill="#0060a8"/></svg>
<div class="abs" style="left:5px;top:89px;width:215px;height:1px;background:#c3c6cf"></div>
<div class="mi" style="top:104px;color:#a4a8b3">Manage Queue</div>
<svg class="abs" style="left:18px;top:105.5px" width="18" height="17" viewBox="0 0 18 17"><path d="M0 4.2 L3.4 7.8 L0 11.4 Z M3.6 4.2 L7 7.8 L3.6 11.4 Z" fill="#9bbad9"/><path d="M7.4 0.8 H16.5 M7.4 15.6 H16.5 M8.2 0.8 V3.6 Q8.2 5.4 10.6 7.2 Q12 8.2 10.6 9.2 Q8.2 11 8.2 12.8 V15.6 M15.7 0.8 V3.6 Q15.7 5.4 13.3 7.2 Q12 8.2 13.3 9.2 Q15.7 11 15.7 12.8 V15.6" stroke="#9bbad9" stroke-width="1.4" fill="none"/><path d="M10.6 3.8 H13.3 L12 5.2 Z M10 14.4 Q10 12.6 12 12.2 Q14 12.6 14 14.4 Z" fill="#9bbad9"/></svg>
<div class="mi" style="top:144px;color:#a4a8b3">View Worker</div>
<svg class="abs" style="left:18px;top:147px" width="18" height="14" viewBox="0 0 18 14"><g stroke="#9bbad9" stroke-width="1.1" fill="none"><rect x="1.3" y="0.6" width="15.4" height="3.2" rx="0.8"/><rect x="1.3" y="5.2" width="15.4" height="3.2" rx="0.8"/><rect x="1.3" y="9.8" width="15.4" height="3.2" rx="0.8"/></g><g fill="#9bbad9"><rect x="3" y="1.8" width="1.4" height="0.9"/><rect x="5.6" y="1.8" width="1.4" height="0.9"/><rect x="3" y="6.4" width="1.4" height="0.9"/><rect x="5.6" y="6.4" width="1.4" height="0.9"/><rect x="3" y="11" width="1.4" height="0.9"/><rect x="5.6" y="11" width="1.4" height="0.9"/></g></svg>
<div class="abs" style="left:5px;top:178px;width:215px;height:1px;background:#c3c6cf"></div>
<div class="mi" style="top:193px;color:#a4a8b3">Share</div>
<svg class="abs" style="left:17px;top:193px" width="20" height="20" viewBox="1.5 1.5 21 21"><g transform="rotate(-45 12 12)"><path d="M3.9 12c0-1.71 1.39-3.1 3.1-3.1h4V7H7c-2.76 0-5 2.24-5 5s2.24 5 5 5h4v-1.9H7c-1.71 0-3.1-1.39-3.1-3.1zM8 13h8v-2H8v2zm9-6h-4v1.9h4c1.71 0 3.1 1.39 3.1 3.1s-1.39 3.1-3.1 3.1h-4V17h4c2.76 0 5-2.24 5-5s-2.24-5-5-5z" fill="#9bbad9"/></g></svg>
<div class="mi" style="top:233px;color:#1b2133">Archive (3 items)</div>
<svg class="abs" style="left:18.5px;top:235px" width="17.3" height="17.3" viewBox="0 0 17.3 17.3"><rect x="0" y="0" width="16.30" height="3.59" rx="1.63" fill="#0060a8"/><path d="M0.98 5.05 H15.32 V14.34 Q15.32 16.30 13.37 16.30 H2.93 Q0.98 16.30 0.98 14.34 Z" fill="#0060a8"/><rect x="5.05" y="7.66" width="6.36" height="1.96" rx="0.98" fill="#eef1fa"/></svg>
<div class="mi" style="top:273px;color:#1b2133">Reset (3 items)</div>
<svg class="abs" style="left:18px;top:274.5px" width="18" height="17" viewBox="0 0 18 17"><path d="M4.6 5.3 A6.4 6.4 0 1 1 4.4 12.2" stroke="#0060a8" stroke-width="1.7" fill="none"/><path d="M0.6 8.4 L7.4 8.4 L4 12.2 Z" fill="#0060a8" transform="rotate(0)"/><path d="M10.2 5.2 V9 L12.8 10.6" stroke="#0060a8" stroke-width="1.5" fill="none"/></svg>
<div class="mi" style="top:313px;color:#1b2133">Abort (1 item)</div>
<svg class="abs" style="left:18px;top:318px" width="16" height="14" viewBox="0 0 16 14"><rect x="3" y="1" width="11.6" height="11.4" rx="1.4" fill="#0060a8"/></svg>
<div class="mi" style="top:353px;color:#1b2133">Publish (2 items)</div>
<svg class="abs" style="left:18px;top:356px" width="18" height="14" viewBox="0 0 18 14"><path d="M4.2 12.8 Q0.4 12.6 0.6 9.2 Q0.8 6.4 3.8 6.2 Q4.6 1.2 9.2 1 Q13.6 1.2 14.4 5.6 Q17.6 6 17.6 9.2 Q17.4 12.6 14 12.8 Z" fill="#0060a8"/><path d="M9.1 5.2 L12.4 8.6 H10.2 V12.9 H8 V8.6 H5.8 Z" fill="#fff"/></svg>
<div class="abs" style="left:5px;top:387px;width:215px;height:1px;background:#c3c6cf"></div>
<div class="mi" style="top:402px;color:#1b2133">Add Tag (3 items)</div>
<svg class="abs" style="left:18px;top:407px" width="18" height="12" viewBox="0 0 18 12"><path d="M0.6 1.6 Q0.6 0.4 1.8 0.4 H11.6 L16.6 6 L11.6 11.6 H1.8 Q0.6 11.6 0.6 10.4 Z" fill="#0060a8"/><circle cx="12" cy="6" r="1.4" fill="#fff"/></svg>
<svg class="abs" style="left:198px;top:407px" width="6" height="10" viewBox="0 0 6 10"><path d="M0.5 0.5 L5 5 L0.5 9.5 Z" fill="#0060a8"/></svg>
<div class="abs" style="left:5px;top:436px;width:215px;height:1px;background:#c3c6cf"></div>
<div class="mi" style="top:451px;color:#1b2133">Clone</div>
<svg class="abs" style="left:18px;top:453px" width="18" height="19" viewBox="0 0 18 19"><rect x="5.6" y="1.2" width="11.2" height="11.6" rx="1.6" fill="#0060a8"/><path d="M0.6 6.6 Q0.6 5.6 1.8 5.6 H3.2 V15.2 H11.4 Q12 15.2 12 16.2 V17.2 Q12 18.2 11 18.2 H1.8 Q0.6 18.2 0.6 17 Z" fill="#0060a8"/></svg>
<div class="mi" style="top:491px;color:#1b2133">Move to Project (3 items)</div>
<svg class="abs" style="left:18.5px;top:494px" width="18" height="16" viewBox="0 0 18 16"><path d="M0 1.2 Q0 0 1.2 0 H6.6 L8.4 2 H15.5 Q16.7 2 16.7 3.2 V13.8 Q16.7 15 15.5 15 H1.2 Q0 15 0 13.8 Z" fill="#0060a8"/><path d="M0 6.8 H6.5 V5 L12 8.35 L6.5 11.7 V9.9 H0 Z" fill="#eef1fa"/></svg>
</div>
<div class="abs" style="left:64px;top:1032px;width:1856px;height:2px;background:#0060a8"></div>
<div class="abs" style="left:64px;top:1034px;width:1856px;height:46px;background:#eef1fa"></div>
<div class="abs up" style="left:88px;top:1049px;color:#0060a8;letter-spacing:0.25px">SHOW 3 TASKS SELECTED</div>
<div class="btn" style="left:267px;top:1039px;width:123px;height:36px;border:1px solid #70737d;color:#0060a8"><span class="abs" style="left:40px;top:9px">COMPARE</span></div>
<svg class="abs" style="left:283px;top:1048px" width="18" height="18" viewBox="283 1048 18 18"><path d="M287 1053 V1059.6 Q287 1061.9 289.3 1061.9 H290.6" stroke="#0060a8" stroke-width="1.6" fill="none"/><path d="M296.4 1061.5 V1054.7 Q296.4 1052.4 294.1 1052.4 H292.8" stroke="#0060a8" stroke-width="1.6" fill="none"/><path d="M290.2 1059.4 L292.7 1061.9 L290.2 1064.4 Z M293.2 1049.9 L290.7 1052.4 L293.2 1054.9 Z" fill="#0060a8"/><circle cx="287" cy="1052.6" r="2.1" fill="#0060a8"/><circle cx="296.4" cy="1061.9" r="2.1" fill="#0060a8"/></svg>
<div class="abs" style="left:408px;top:1048px;width:1px;height:19px;background:#9bb4d3"></div>
<div class="abs" style="left:481px;top:1048px;width:1px;height:19px;background:#9bb4d3"></div>
<div class="abs" style="left:824px;top:1048px;width:1px;height:19px;background:#9bb4d3"></div>
<div class="abs" style="left:897px;top:1048px;width:1px;height:19px;background:#9bb4d3"></div>
<svg class="abs" style="left:436.8px;top:1049.1px" width="17.5" height="18" viewBox="0 0 17.5 18"><rect x="0" y="0" width="16.50" height="3.74" rx="1.70" fill="#0060a8"/><path d="M0.99 5.27 H15.51 V15.02 Q15.51 17.00 13.53 17.00 H2.97 Q0.99 17.00 0.99 15.02 Z" fill="#0060a8"/><rect x="5.12" y="7.99" width="6.44" height="2.04" rx="1.02" fill="#eef1fa"/></svg>
<svg class="abs" style="left:509px;top:1049px" width="19" height="17" viewBox="0 0 19 17"><path d="M0.6 4.6 L4.2 8.2 L0.6 11.8 Z" fill="#a1a3aa"/><path d="M5.8 0.9 H16.4 M5.8 16 H16.4 M6.8 0.9 V3.8 Q6.8 5.6 9.6 7.6 Q11 8.4 9.6 9.4 Q6.8 11.2 6.8 13 V16 M15.4 0.9 V3.8 Q15.4 5.6 12.6 7.6 Q11.2 8.4 12.6 9.4 Q15.4 11.2 15.4 13 V16" stroke="#a1a3aa" stroke-width="1.5" fill="none"/><path d="M9.4 4 H12.8 L11.1 5.6 Z M8.8 14.8 Q8.8 12.8 11.1 12.4 Q13.4 12.8 13.4 14.8 Z" fill="#a1a3aa"/></svg>
<svg class="abs" style="left:563px;top:1049px" width="18" height="18" viewBox="0 0 18 18"><path d="M14.6 6.2 A6.6 6.6 0 1 0 15.2 9.6" stroke="#a1a3aa" stroke-width="1.5" fill="none"/><path d="M16.4 1.6 V7.6 H10.4 Z" fill="#a1a3aa"/></svg>
<svg class="abs" style="left:616.5px;top:1049px" width="18" height="17" viewBox="0 0 18 17"><path d="M4.6 5.3 A6.4 6.4 0 1 1 4.4 12.2" stroke="#0060a8" stroke-width="1.7" fill="none"/><path d="M0.6 8.4 L7.4 8.4 L4 12.2 Z" fill="#0060a8" transform="rotate(0)"/><path d="M10.2 5.2 V9 L12.8 10.6" stroke="#0060a8" stroke-width="1.5" fill="none"/></svg>
<svg class="abs" style="left:673px;top:1051px" width="14" height="14" viewBox="0 0 14 14"><rect x="1" y="1" width="12" height="12" rx="1.4" fill="#0060a8"/></svg>
<svg class="abs" style="left:725px;top:1049px" width="18" height="18" viewBox="0 0 18 18"><rect x="1.2" y="1.2" width="15.4" height="15.4" rx="2" stroke="#a1a3aa" stroke-width="1.5" fill="none"/><rect x="4.3" y="4.3" width="9.2" height="9.2" fill="#a1a3aa"/><rect x="6.8" y="6.8" width="4.2" height="4.2" fill="#eef1fa"/></svg>
<svg class="abs" style="left:779px;top:1050px" width="18" height="14" viewBox="0 0 18 14"><path d="M4.2 12.8 Q0.4 12.6 0.6 9.2 Q0.8 6.4 3.8 6.2 Q4.6 1.2 9.2 1 Q13.6 1.2 14.4 5.6 Q17.6 6 17.6 9.2 Q17.4 12.6 14 12.8 Z" fill="#0060a8"/><path d="M9.1 5.2 L12.4 8.6 H10.2 V12.9 H8 V8.6 H5.8 Z" fill="#fff"/></svg>
<svg class="abs" style="left:852.5px;top:1052px" width="18" height="12" viewBox="0 0 18 12"><path d="M0.6 1.6 Q0.6 0.4 1.8 0.4 H11.6 L16.6 6 L11.6 11.6 H1.8 Q0.6 11.6 0.6 10.4 Z" fill="#0060a8"/><circle cx="12" cy="6" r="1.4" fill="#eef1fa"/></svg>
<svg class="abs" style="left:925.7px;top:1049.8px" width="18" height="16" viewBox="0 0 18 16"><path d="M0 1.2 Q0 0 1.2 0 H6.6 L8.4 2 H15.5 Q16.7 2 16.7 3.2 V13.8 Q16.7 15 15.5 15 H1.2 Q0 15 0 13.8 Z" fill="#0060a8"/><path d="M0 6.8 H6.5 V5 L12 8.35 L6.5 11.7 V9.9 H0 Z" fill="#eef1fa"/></svg>
</body></html>
